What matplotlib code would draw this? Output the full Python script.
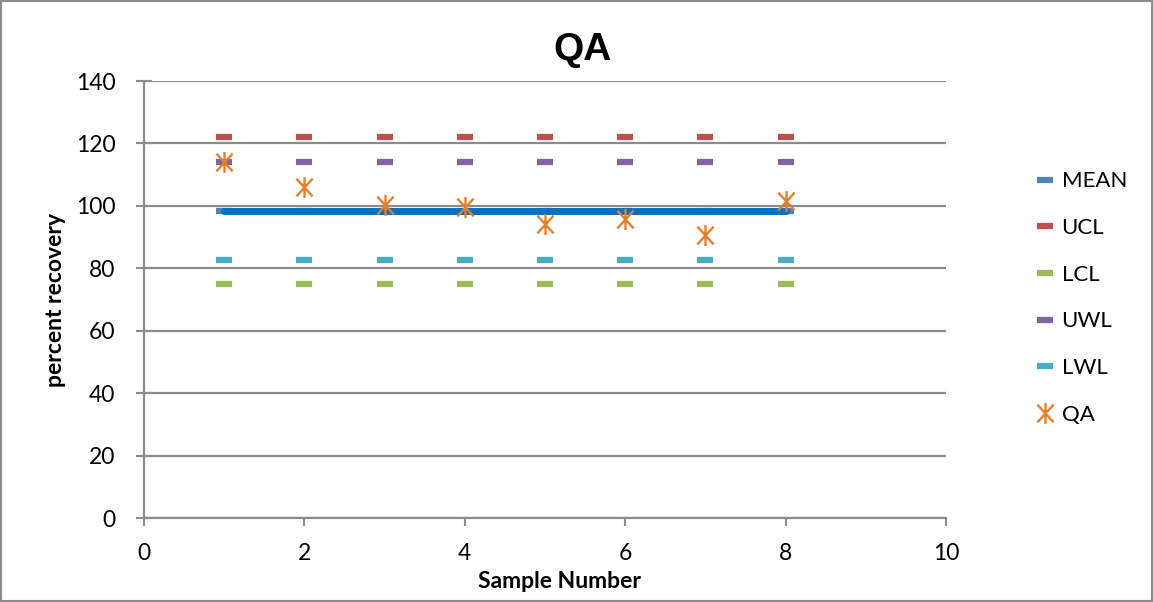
import matplotlib.pyplot as plt
from matplotlib.path import Path

plt.rcParams['font.family'] = ['Lato', 'DejaVu Sans']

# ====== Data ======
samples = [1, 2, 3, 4, 5, 6, 7, 8]
mean = [98.5] * 8
ucl = [122.2] * 8
lcl = [74.9] * 8
uwl = [114.2] * 8
lwl = [82.8] * 8
qa = [114.2, 106.0, 100.3, 99.5, 94.2, 95.8, 90.7, 101.7]

# asterisk: vertical stroke plus an X
star = Path([(0, -1), (0, 1), (-0.78, -0.85), (0.78, 0.85), (-0.78, 0.85), (0.78, -0.85)],
            [Path.MOVETO, Path.LINETO, Path.MOVETO, Path.LINETO, Path.MOVETO, Path.LINETO])

# ====== Plot ======
fig = plt.figure(figsize=(11.53, 6.02), dpi=100)
ax = fig.add_axes([0.1249, 0.1395, 0.6956, 0.7259])

grid_col = '#8c8c8c'
ax.set_xlim(0, 10)
ax.set_ylim(0, 140)
ax.set_xticks(range(0, 11, 2))
ax.set_yticks(range(0, 141, 20))
ax.yaxis.grid(True, color=grid_col, lw=1.6)
ax.set_axisbelow(True)
for s in ['top', 'right']:
    ax.spines[s].set_visible(False)
for s in ['left', 'bottom']:
    ax.spines[s].set_color(grid_col)
    ax.spines[s].set_linewidth(1.6)
ax.tick_params(axis='x', direction='out', length=6, pad=12)
ax.tick_params(axis='y', direction='inout', length=11, pad=15)
ax.tick_params(colors=grid_col, width=1.5, labelsize=16.5, labelcolor='black')

dash = dict(marker='_', ms=11.5, mew=4.5, ls='none')
ax.plot(samples, mean, color='#4f81bd', label='MEAN', **dash)
ax.plot(samples, ucl, color='#c0504d', label='UCL', **dash)
ax.plot(samples, lcl, color='#9bbb59', label='LCL', **dash)
ax.plot(samples, uwl, color='#8064a2', label='UWL', **dash)
ax.plot(samples, lwl, color='#4bacc6', label='LWL', **dash)
# mean drawn across all samples as a heavy line
ax.plot([samples[0], samples[-1]], [mean[0], mean[-1]], color='#0070c0', lw=5,
        solid_capstyle='round', zorder=3)
ax.plot(samples, qa, color='#e2802e', marker=star, ms=15, mew=1.7,
        ls='none', label='QA', zorder=4)

fig.text(583 / 1153, 1 - 50 / 602, 'QA', fontsize=28, fontweight='bold',
         family=['Liberation Sans', 'DejaVu Sans'], ha='center', va='center')
fig.text(560 / 1153, 1 - 582 / 602, 'Sample Number', fontsize=16.5, fontweight='bold',
         ha='center', va='center')
fig.text(56 / 1153, 1 - 300 / 602, 'percent recovery', fontsize=16.5, fontweight='bold',
         rotation=90, ha='center', va='center')

ax.legend(loc='center left', bbox_to_anchor=(1036 / 1153, 1 - 298 / 602),
          bbox_transform=fig.transFigure, frameon=False, borderpad=0, borderaxespad=0,
          fontsize=16, labelspacing=1.2, handlelength=0.8, handletextpad=0.35)

# outer chart border
fig.add_artist(plt.Rectangle((0.001, 0.002), 0.998, 0.996, transform=fig.transFigure,
                             fill=False, edgecolor='#8c8c8c', lw=1.5))

plt.savefig('out.png', dpi=100)
